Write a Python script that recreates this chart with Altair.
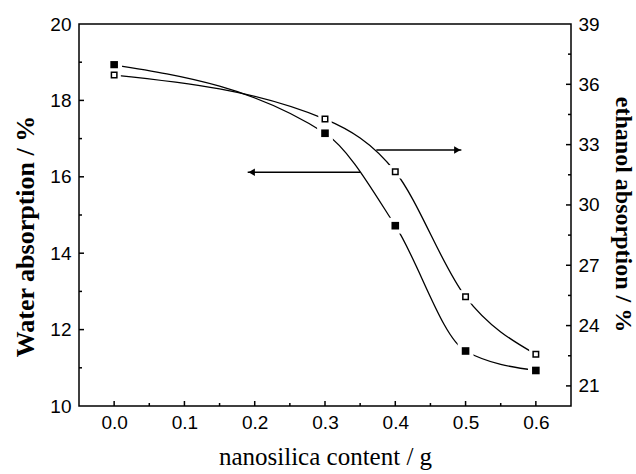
import altair as alt
import pandas as pd

# Measured absorption versus nanosilica loading
nanosilica = [0.0, 0.3, 0.4, 0.5, 0.6]
water = [18.93, 17.14, 14.72, 11.44, 10.93]
ethanol = [36.46, 34.27, 31.65, 25.43, 22.57]

# Axis ticks
x_major = [0.0, 0.1, 0.2, 0.3, 0.4, 0.5, 0.6]
x_minor = [0.05, 0.15, 0.25, 0.35, 0.45, 0.55]
water_labels = [10, 12, 14, 16, 18, 20]
water_major = [12, 14, 16, 18]
water_minor = [11, 13, 15, 17, 19]
eth_labels = [21, 24, 27, 30, 33, 36, 39]
eth_major = [21, 24, 27, 30, 33, 36]
eth_minor = [22.5, 25.5, 28.5, 31.5, 34.5, 37.5]

# Arrows pointing each curve to its axis
water_arrow_x = [0.19, 0.35]
water_arrow_y = 16.12
eth_arrow_x = [0.373, 0.494]
eth_arrow_y = 32.73

W, H = 492, 382
SANS = "Liberation Sans"
SERIF = "Liberation Serif"

xs = alt.Scale(domain=[-0.05, 0.65], nice=False, zero=False)
ys_left = alt.Scale(domain=[10, 20], nice=False, zero=False)
ys_right = alt.Scale(domain=[20, 39], nice=False, zero=False)

x_axis = alt.Axis(
    orient="bottom", values=x_major, format=".1f", title="nanosilica content / g",
    ticks=False, tickSize=0, domain=False, grid=False, labelOverlap=False,
    labelFont=SANS, labelFontSize=19, labelPadding=7, labelFlush=False,
    titleFont=SERIF, titleFontSize=25, titleFontWeight="normal",
    titleX=W / 2, titleY=58, titleAlign="center", titleBaseline="alphabetic",
)
left_axis = alt.Axis(
    orient="left", values=water_labels, format="d", title="Water absorption / %",
    ticks=False, tickSize=0, domain=False, grid=False, labelOverlap=False,
    labelFont=SANS, labelFontSize=19, labelPadding=8,
    titleFont=SERIF, titleFontSize=26, titleFontWeight="bold",
    titleAngle=-90, titleX=-46, titleY=212, titleAlign="center",
    titleBaseline="alphabetic",
)
right_axis = alt.Axis(
    orient="right", values=eth_labels, format="d", title="ethanol absorption / %",
    ticks=False, tickSize=0, domain=False, grid=False, labelOverlap=False,
    labelFont=SANS, labelFontSize=19, labelPadding=7,
    titleFont=SERIF, titleFontSize=24, titleFontWeight="bold",
    titleAngle=90, titleX=44, titleY=190, titleAlign="center",
    titleBaseline="alphabetic",
)

df = pd.DataFrame({"x": nanosilica, "water": water, "ethanol": ethanol})


def X(field):
    return alt.X(field, scale=xs, axis=x_axis)


def Y(field, side):
    if side == "left":
        return alt.Y(field, scale=ys_left, axis=left_axis)
    return alt.Y(field, scale=ys_right, axis=right_axis)


def ticks_x(values, length):
    return alt.Chart(pd.DataFrame({"v": values})).mark_rule(
        color="black", strokeWidth=1.5
    ).encode(x=X("v:Q"), y=alt.value(H), y2=alt.value(H - length))


def ticks_y(values, side, x0, x1):
    return alt.Chart(pd.DataFrame({"v": values})).mark_rule(
        color="black", strokeWidth=1.5
    ).encode(y=Y("v:Q", side), x=alt.value(x0), x2=alt.value(x1))


def arrow(xs_pair, yval, side, head_shape, head_offset):
    adf = pd.DataFrame({"x1": [xs_pair[0]], "x2": [xs_pair[1]], "y": [yval]})
    shaft = alt.Chart(adf).mark_rule(color="black", strokeWidth=1.5).encode(
        x=X("x1:Q"), x2="x2:Q", y=Y("y:Q", side),
    )
    tip_field = "x1:Q" if head_shape == "triangle-left" else "x2:Q"
    head = alt.Chart(adf).mark_point(
        shape=head_shape, filled=True, color="black", size=55,
        opacity=1, xOffset=head_offset,
    ).encode(x=X(tip_field), y=Y("y:Q", side))
    return shaft + head


base = alt.Chart(df)

# Curves are broken around each marker by a white square drawn beneath it
water_line = base.mark_line(color="black", strokeWidth=1.3, interpolate="monotone").encode(
    x=X("x:Q"), y=Y("water:Q", "left"),
)
water_gap = base.mark_point(shape="square", filled=True, color="white", size=250, opacity=1).encode(
    x=X("x:Q"), y=Y("water:Q", "left"),
)
water_pts = base.mark_point(shape="square", filled=True, color="black", size=58, opacity=1).encode(
    x=X("x:Q"), y=Y("water:Q", "left"),
)

eth_line = base.mark_line(color="black", strokeWidth=1.3, interpolate="monotone").encode(
    x=X("x:Q"), y=Y("ethanol:Q", "right"),
)
eth_gap = base.mark_point(shape="square", filled=True, color="white", size=180, opacity=1).encode(
    x=X("x:Q"), y=Y("ethanol:Q", "right"),
)
eth_pts = base.mark_point(
    shape="square", fill="white", stroke="black", strokeWidth=1.5,
    size=30, opacity=1, fillOpacity=1,
).encode(x=X("x:Q"), y=Y("ethanol:Q", "right"))

left_group = alt.layer(
    water_line, water_gap, water_pts,
    ticks_y(water_major, "left", 0, 5),
    ticks_y(water_minor, "left", 0, 3),
    ticks_x(x_major, 5),
    ticks_x(x_minor, 3),
    arrow(water_arrow_x, water_arrow_y, "left", "triangle-left", 4),
)
right_group = alt.layer(
    eth_line, eth_gap, eth_pts,
    ticks_y(eth_major, "right", W, W - 5),
    ticks_y(eth_minor, "right", W, W - 3),
    arrow(eth_arrow_x, eth_arrow_y, "right", "triangle-right", -4),
)

chart = alt.layer(left_group, right_group).resolve_scale(y="independent").properties(
    width=W, height=H,
    autosize=alt.AutoSizeParams(type="none"),
    padding={"left": 79, "top": 24, "right": 65, "bottom": 68},
    background="white",
).configure_view(
    stroke="black", strokeWidth=1.5
).configure_axis(
    labelColor="black", titleColor="black"
)

chart.save("out.html", embed_options={"renderer": "svg", "actions": False})
